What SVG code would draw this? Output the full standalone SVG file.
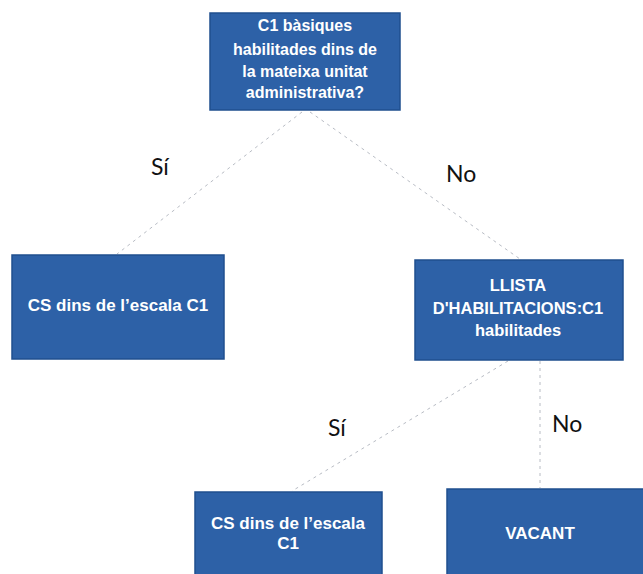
<svg xmlns="http://www.w3.org/2000/svg" width="643" height="574" viewBox="0 0 643 574">
<style>
.box{fill:#2d61a7;stroke:#1f4f8f;stroke-width:1.5}
.t{font-family:"Liberation Sans",Arial,sans-serif;font-weight:bold;fill:#fff;text-anchor:middle}
.lbl{font-family:Lato,"Open Sans",sans-serif;font-size:23px;fill:#111}
.c{stroke:#b8bcc4;stroke-width:1;stroke-dasharray:3 4;fill:none}
</style>
<rect width="643" height="574" fill="#fff"/>
<g id="connectors">
<line class="c" x1="302" y1="112" x2="117" y2="254"/>
<line class="c" x1="310" y1="112" x2="520" y2="259"/>
<line class="c" x1="508" y1="361" x2="292" y2="491"/>
<line class="c" x1="540" y1="361" x2="540" y2="488"/>
</g>
<g id="n1">
<rect class="box" x="210" y="13" width="190" height="97"/>
<text class="t" font-size="16" x="305" y="31">C1 bàsiques</text>
<text class="t" font-size="16" x="305" y="55">habilitades dins de</text>
<text class="t" font-size="16" x="305" y="77">la mateixa unitat</text>
<text class="t" font-size="16" x="305" y="98">administrativa?</text>
</g>
<g id="n2">
<rect class="box" x="12" y="255" width="212" height="104"/>
<text class="t" font-size="17" x="118" y="311">CS dins de l’escala C1</text>
</g>
<g id="n3">
<rect class="box" x="415" y="260" width="208" height="100"/>
<text class="t" font-size="16.5" x="518" y="291">LLISTA</text>
<text class="t" font-size="16.5" x="518" y="314">D'HABILITACIONS:C1</text>
<text class="t" font-size="16.5" x="518" y="336">habilitades</text>
</g>
<g id="n4">
<rect class="box" x="195" y="492" width="187" height="90"/>
<text class="t" font-size="17" x="288" y="529">CS dins de l’escala</text>
<text class="t" font-size="17" x="288" y="549">C1</text>
</g>
<g id="n5">
<rect class="box" x="447" y="489" width="205" height="93"/>
<text class="t" font-size="17" x="540" y="539">VACANT</text>
</g>
<g id="labels">
<text class="lbl" x="151" y="175">Sí</text>
<text class="lbl" x="446" y="182">No</text>
<text class="lbl" x="328" y="436">Sí</text>
<text class="lbl" x="552" y="432">No</text>
</g>
</svg>
